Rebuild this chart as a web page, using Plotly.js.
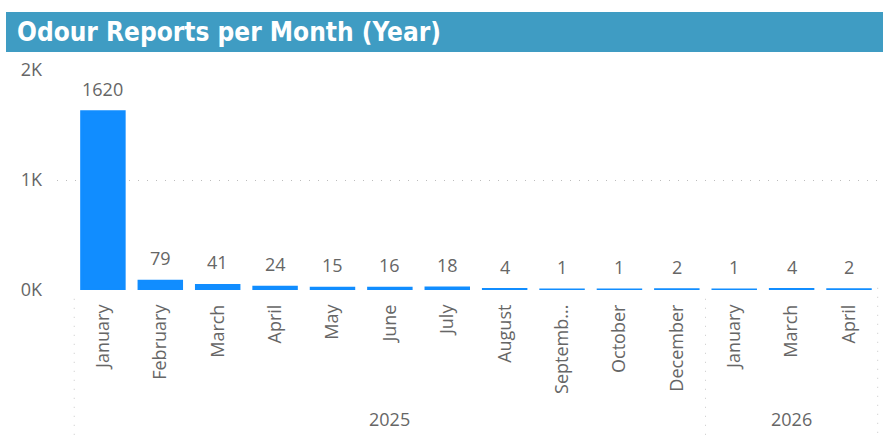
<!DOCTYPE html>
<html>
<head>
<meta charset="utf-8">
<script src="https://cdn.plot.ly/plotly-3.0.1.min.js"></script>
<style>
html,body{margin:0;padding:0;background:#fff;}
#chart{width:890px;height:435px;}
</style>
</head>
<body>
<div id="chart"></div>
<script>
// ---- data ----
const years = ["2025","2025","2025","2025","2025","2025","2025","2025","2025","2025","2025","2026","2026","2026"];
const months = ["January","February","March","April","May","June","July","August","Septemb...","October","December","January","March","April"];
const reports = [1620, 79, 41, 24, 15, 16, 18, 4, 1, 1, 2, 1, 4, 2];
const yTickVals = [0, 1000, 2000];
const yTickText = ["0K", "1K", "2K"];

// ---- layout helpers ----
const W = 890, H = 435;
const L = 57, R = 10, T = 70, B = 145;
const idx = months.map((m, i) => i);

// year groups derived from data
const groups = [];
years.forEach((y, i) => {
  if (!groups.length || groups[groups.length - 1].year !== y) groups.push({year: y, start: i, end: i});
  else groups[groups.length - 1].end = i;
});

const font = "'Open Sans', 'Noto Sans', sans-serif";
const grey = "#666666";
const dotted = "1px,8px";

const shapes = [];
const annotations = [];
// title bar background
const pw = W - L - R, ph = H - T - B;
shapes.push({type: "rect", xref: "paper", yref: "paper",
  x0: (6 - L) / pw, x1: (883 - L) / pw, y0: (H - B - 52) / ph, y1: (H - B - 12) / ph,
  fillcolor: "#3F9CC3", line: {width: 0}, layer: "below"});

// dividers between year groups
const dividerX = [groups[0].start - 0.5].concat(groups.map(g => g.end + 0.5));
dividerX.forEach((x, k) => {
  shapes.push({type: "line", xref: "x", yref: "paper", x0: x, x1: x,
    y0: k === dividerX.length - 1 ? 0.01 : -0.04, y1: -B / ph,
    line: {color: "#c8c8c8", width: 1, dash: dotted}});
});
groups.forEach(g => {
  annotations.push({xref: "x", yref: "paper", x: (g.start + g.end) / 2, y: -(B - 2) / ph,
    yanchor: "bottom", text: g.year, showarrow: false, font: {family: font, size: 18, color: grey}});
});

// data labels, anchored on each bar top via the data scale
reports.forEach((v, i) => {
  annotations.push({xref: "x", yref: "y", x: i, y: v, yanchor: "bottom", yshift: 9,
    text: String(v), showarrow: false, font: {family: font, size: 18, color: grey}});
});

const trace = {
  type: "bar",
  x: idx,
  y: reports,
  marker: {color: "#118DFF", line: {color: "#118DFF", width: 3}},
  width: 0.74,
  hoverinfo: "x+y"
};

const layout = {
  width: W, height: H,
  margin: {l: L, r: R, t: T, b: B, pad: 0},
  paper_bgcolor: "#fff", plot_bgcolor: "#fff",
  showlegend: false,
  title: {text: "<b>Odour Reports per Month (Year)</b>", x: 17 / W, xanchor: "left", xref: "container",
    y: 1 - 32 / H, yanchor: "middle", yref: "container",
    font: {family: "'DejaVu Sans Condensed', 'DejaVu Sans', sans-serif", size: 26, color: "#ffffff"}},
  xaxis: {
    range: [-0.8, 13.54],
    tickmode: "array", tickvals: idx, ticktext: months,
    tickangle: -90, showgrid: false, zeroline: false, showline: false, ticks: "",
    ticklabelstandoff: 10,
    tickfont: {family: font, size: 18, color: grey}, fixedrange: true
  },
  yaxis: {
    range: [0, 2000],
    tickmode: "array", tickvals: yTickVals, ticktext: yTickText,
    showgrid: true, gridcolor: "#bdbdbd", griddash: dotted, gridwidth: 1,
    zeroline: false, showline: false, ticks: "", ticklabelstandoff: 14,
    tickfont: {family: font, size: 18, color: grey}, fixedrange: true
  },
  shapes: shapes,
  annotations: annotations
};

Plotly.newPlot("chart", [trace], layout, {displayModeBar: false, staticPlot: true});
</script>
</body>
</html>
